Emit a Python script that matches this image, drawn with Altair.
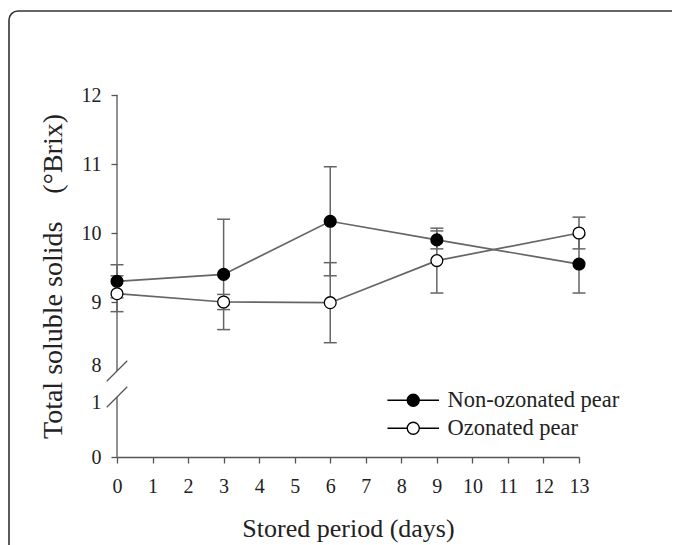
import altair as alt
import pandas as pd

# ---- data ----
days = [0, 3, 6, 9, 13]
series_names = ["Non-ozonated pear", "Ozonated pear"]
non_ozonated = [9.30, 9.40, 10.17, 9.90, 9.55]
non_ozonated_err = [0.24, 0.80, 0.79, 0.13, 0.42]
ozonated = [9.12, 9.00, 8.99, 9.60, 10.00]
ozonated_err = [0.26, 0.11, 0.58, 0.47, 0.23]
x_ticks = list(range(0, 14))
y_ticks = [0, 1, 8, 9, 10, 11, 12]
axis_lo = [0.0, 8.0]   # broken y-axis pieces
axis_hi = [1.0, 12.0]
break_marks = [1, 8]

rows = []
for name, vals, errs in [(series_names[0], non_ozonated, non_ozonated_err),
                         (series_names[1], ozonated, ozonated_err)]:
    for d, v, e in zip(days, vals, errs):
        rows.append({"day": d, "series": name, "value": v, "lo": v - e, "hi": v + e})
df = pd.DataFrame(rows)
seg_df = pd.DataFrame({"day": [0, 0], "lo": axis_lo, "hi": axis_hi})
brk_df = pd.DataFrame({"day": [0] * len(break_marks), "value": break_marks})
one = pd.DataFrame({"k": [0]})

W, H = 462, 362
FONT = "Liberation Serif"
GRAY = "#656565"
AXC = "#555555"
TXT = "#222222"

yscale = alt.Scale(domain=[0, 1, 8, 12], range=[H, H - 60, H - 86, 0], nice=False, zero=False)
xscale = alt.Scale(domain=[0, 13], nice=False, zero=False)

x_axis = alt.Axis(values=x_ticks, format="d", title="Stored period (days)", grid=False,
                  domainColor=AXC, tickColor=AXC, tickSize=6, domainWidth=1.3, tickWidth=1.3,
                  labelPadding=13, labelFlush=False, labelFontSize=20, labelColor=TXT, labelFont=FONT,
                  titleFontSize=26, titleFont=FONT, titleColor=TXT, titleFontWeight="normal",
                  titlePadding=19)
y_axis = alt.Axis(values=y_ticks, format="d",
                  title="Total soluble solids\u00a0\u00a0\u00a0\u00a0(\u00b0Brix)", grid=False,
                  domain=False, tickColor=AXC, tickSize=6, tickWidth=1.3, labelFlush=False,
                  tickOpacity={"condition": {"test": "datum.value == 1 || datum.value == 8", "value": 0}, "value": 1},
                  labelOffset={"condition": [{"test": "datum.value == 8", "value": -6},
                                             {"test": "datum.value == 1", "value": 5}], "value": 0},
                  labelPadding=10, labelFontSize=20, labelColor=TXT, labelFont=FONT,
                  titleFontSize=28, titleFont=FONT, titleColor=TXT, titleFontWeight="normal",
                  titleX=-64, titleY=181, titleAngle=270, titleAlign="center", titleBaseline="middle")


def X(field="day"):
    return alt.X(f"{field}:Q", scale=xscale, axis=x_axis)


def Y(field):
    return alt.Y(f"{field}:Q", scale=yscale, axis=y_axis)


border = alt.Chart(one).mark_rect(fillOpacity=0, stroke="#333333", strokeWidth=1.6, cornerRadius=9).encode(
    x=alt.value(-108), x2=alt.value(575), y=alt.value(-84), y2=alt.value(480))

yline = alt.Chart(seg_df).mark_rule(color=AXC, strokeWidth=1.3).encode(
    x=X(), y=Y("lo"), y2="hi:Q")

slashes = alt.Chart(brk_df).mark_point(shape="M-1,1L1,-1", size=420, stroke=AXC, strokeWidth=1.3,
                                       opacity=1).encode(x=X(), y=Y("value"))

ebar = alt.Chart(df).mark_rule(color=GRAY, strokeWidth=1.5).encode(x=X(), y=Y("lo"), y2="hi:Q")
cap_lo = alt.Chart(df).mark_tick(orient="horizontal", size=13, thickness=1.5, color=GRAY, opacity=1).encode(
    x=X(), y=Y("lo"))
cap_hi = alt.Chart(df).mark_tick(orient="horizontal", size=13, thickness=1.5, color=GRAY, opacity=1).encode(
    x=X(), y=Y("hi"))

lines = alt.Chart(df).mark_line(color=GRAY, strokeWidth=1.7).encode(x=X(), y=Y("value"), detail="series:N")

legend_symbol = "M-4.3,0L-1,0M1,0L4.3,0M1,0A1,1,0,1,1,-1,0A1,1,0,1,1,1,0Z"
points = alt.Chart(df).mark_circle(size=140, stroke="black", strokeWidth=1.3, opacity=1).encode(
    x=X(), y=Y("value"),
    fill=alt.Fill("series:N", scale=alt.Scale(domain=series_names, range=["black", "white"]),
                  legend=alt.Legend(title=None, orient="none", legendX=285, legendY=294,
                                    symbolType=legend_symbol, symbolSize=144,
                                    symbolStrokeColor="black", symbolStrokeWidth=1.3,
                                    labelFont=FONT, labelFontSize=22.5, labelColor=TXT, labelLimit=0,
                                    labelOffset=23, rowPadding=5, padding=0)))

chart = alt.layer(border, yline, slashes, ebar, cap_lo, cap_hi, lines, points).properties(
    width=W, height=H,
    autosize=alt.AutoSizeParams(type="none"),
    padding={"left": 109, "top": 87, "right": 93, "bottom": 88},
    background="white",
).configure(font=FONT, view=alt.ViewConfig(strokeWidth=0))

chart.save("out.html", embed_options={"renderer": "svg", "actions": False})
